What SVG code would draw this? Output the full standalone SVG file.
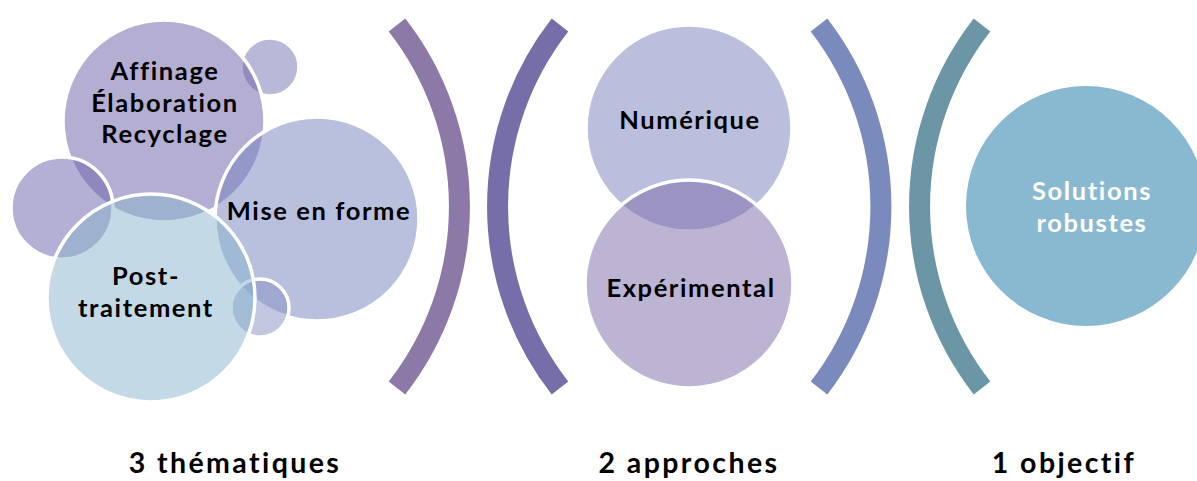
<svg xmlns="http://www.w3.org/2000/svg" width="1197" height="481" viewBox="0 0 1197 481">
<style>
.c{stroke:#fff;stroke-width:3.5;fill-opacity:0.5}
.t{font-family:Lato,"Open Sans","DejaVu Sans",sans-serif;font-weight:bold;fill:#000;text-anchor:middle}
.n{font-size:25.5px;letter-spacing:1.6px}
.w{fill:#fff}
.l{font-size:28.5px;letter-spacing:2.4px}
.arc{fill:none;stroke-width:21;stroke-linecap:butt}
</style>
<rect width="1197" height="481" fill="#fff"/>
<g id="connectors">
<path class="arc" d="M397,25 A295,295 0 0 1 397,388" stroke="#8c79a8"/>
<path class="arc" d="M560,25 A295,295 0 0 0 560,388" stroke="#766ea9"/>
<path class="arc" d="M819,25 A297,297 0 0 1 819,388" stroke="#7b8abd"/>
<path class="arc" d="M982,25 A295,295 0 0 0 982,388" stroke="#6a96a6"/>
</g>
<g id="small-top">
<circle class="c" cx="270" cy="67" r="29" fill="#7173b3"/>
</g>
<g id="affinage">
<circle class="c" cx="164" cy="121" r="101" fill="#6b5da7"/>
</g>
<g id="small-left">
<circle class="c" cx="62" cy="208" r="51" fill="#6961ab"/>
</g>
<g id="mise-en-forme">
<circle class="c" cx="317" cy="219" r="102" fill="#7381bd"/>
</g>
<g id="small-bottom">
<circle class="c" cx="260" cy="308" r="29" fill="#8390c4"/>
</g>
<g id="post-traitement">
<circle class="c" cx="151" cy="298" r="104" fill="#88b3cb"/>
</g>
<g id="labels-left">
<text class="t n" x="165" y="80">Affinage</text>
<text class="t n" x="165" y="112">Élaboration</text>
<text class="t n" x="165" y="143">Recyclage</text>
<text class="t n" x="319" y="220">Mise en forme</text>
<text class="t n" x="146" y="285">Post-</text>
<text class="t n" x="146" y="317">traitement</text>
</g>
<g id="numerique">
<circle class="c" cx="689" cy="128" r="103" fill="#7580bb"/>
<text class="t n" x="690" y="129">Numérique</text>
</g>
<g id="experimental">
<circle class="c" cx="689" cy="284" r="104" fill="#7b68a8"/>
<text class="t n" x="691" y="297">Expérimental</text>
</g>
<g id="solutions">
<circle cx="1086" cy="206" r="120" fill="#89b9d1"/>
<text class="t n w" x="1092" y="200">Solutions</text>
<text class="t n w" x="1092" y="232">robustes</text>
</g>
<g id="bottom-labels">
<text class="t l" x="235" y="473">3 thématiques</text>
<text class="t l" x="689" y="473">2 approches</text>
<text class="t l" x="1064" y="473">1 objectif</text>
</g>
</svg>
